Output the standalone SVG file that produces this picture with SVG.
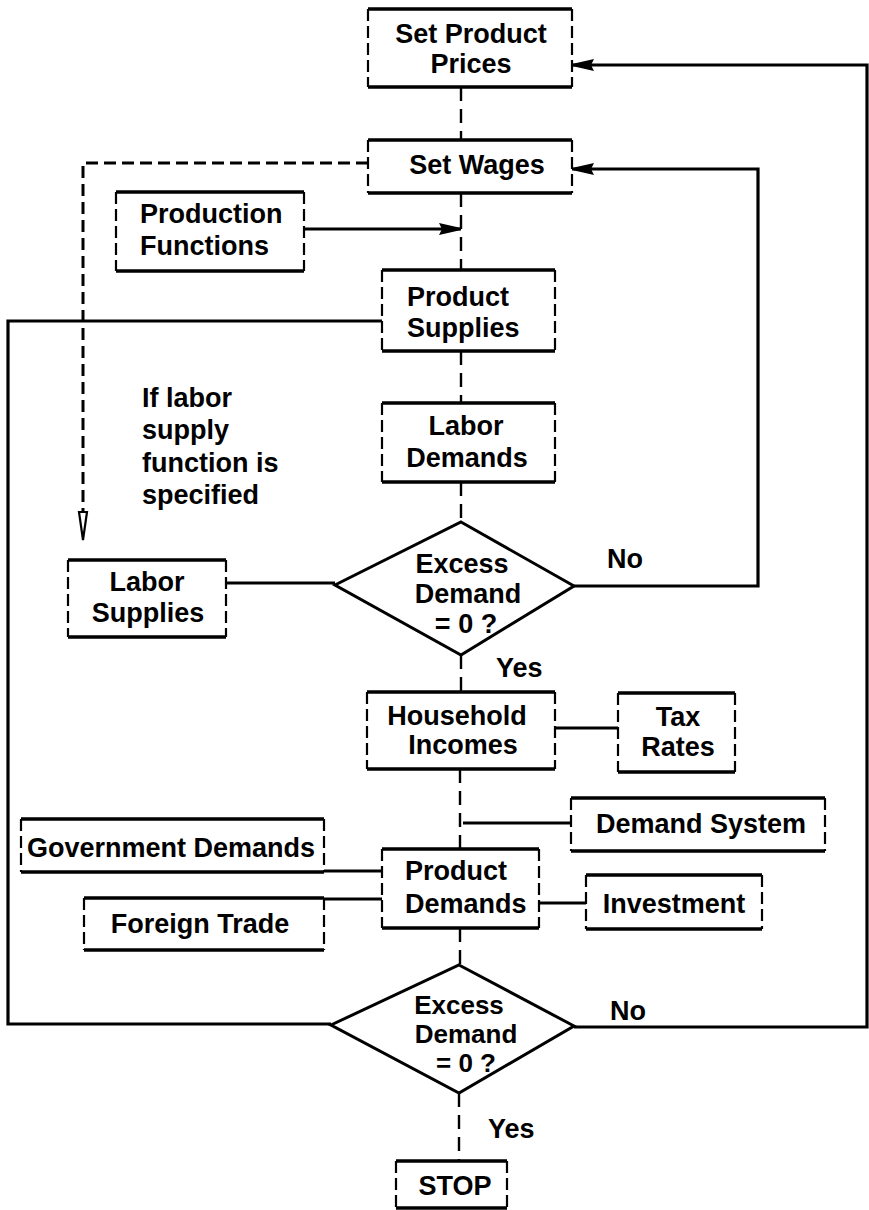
<svg xmlns="http://www.w3.org/2000/svg" width="869" height="1210" viewBox="0 0 869 1210">
<style>
.h{stroke:#000;stroke-width:3.5;fill:none}
.v{stroke:#000;stroke-width:2.2;fill:none;stroke-dasharray:12 5}
.d{stroke:#000;stroke-width:3;fill:#fff;stroke-linejoin:miter}
.s{stroke:#000;stroke-width:3.2;fill:none}
.ds{stroke:#000;stroke-width:2.4;fill:none;stroke-dasharray:14 8}
.dl{stroke:#000;stroke-width:3;fill:none;stroke-dasharray:12 6}
text{font-family:"Liberation Sans",Arial,sans-serif;font-weight:bold;font-size:27px;fill:#000}
.m{text-anchor:middle}
.sm{font-size:26px}
</style>
<defs>
<marker id="ah" viewBox="0 0 22 12" refX="22" refY="6" markerWidth="22" markerHeight="12" markerUnits="userSpaceOnUse" orient="auto">
<path d="M0 0 L22 5 L22 7 L0 12 L3 6 Z" fill="#000"/>
</marker>
</defs>
<rect width="869" height="1210" fill="#fff"/>
<g id="connectors">
<path class="ds" d="M461 87 V140"/>
<path class="ds" d="M461 193 V270"/>
<path class="s" d="M304 229 H461" marker-end="url(#ah)"/>
<path class="dl" d="M368 163 H83 V512"/>
<path d="M79 512 L83 540 L87 512 Z" fill="none" stroke="#000" stroke-width="2.2"/>
<path class="s" d="M382 321 H8 V1024 H331"/>
<path class="ds" d="M461 351 V403"/>
<path class="ds" d="M461 482 V522"/>
<path class="s" d="M226 583 H335"/>
<path class="s" d="M574 586 H758 V169 H572" marker-end="url(#ah)"/>
<path class="ds" d="M461 655 V692"/>
<path class="s" d="M555 728 H618"/>
<path class="ds" d="M460 769 V849"/>
<path class="s" d="M463 823 H571"/>
<path class="s" d="M324 871 H382"/>
<path class="s" d="M324 899 H382"/>
<path class="s" d="M539 903 H586"/>
<path class="ds" d="M460 928 V965"/>
<path class="s" d="M574 1027 H867 V65 H572" marker-end="url(#ah)"/>
<path class="ds" d="M459 1093 V1161"/>
</g>
<g id="labels">
<text x="607" y="568">No</text>
<text x="496" y="677">Yes</text>
<text x="610" y="1020">No</text>
<text x="488" y="1138">Yes</text>
<text x="142" y="407">If labor</text>
<text x="142" y="439">supply</text>
<text x="142" y="472">function is</text>
<text x="142" y="504">specified</text>
</g>
<g id="set-product-prices">
<path class="h" d="M368 9 H572 M368 87 H572"/>
<path class="v" d="M368 9 V87 M572 9 V87"/>
<text class="m" x="471" y="43">Set Product</text>
<text class="m" x="471" y="73">Prices</text>
</g>
<g id="set-wages">
<path class="h" d="M368 140 H572 M368 193 H572"/>
<path class="v" d="M368 140 V193 M572 140 V193"/>
<text class="m" x="477" y="174">Set Wages</text>
</g>
<g id="production-functions">
<path class="h" d="M116 192 H304 M116 271 H304"/>
<path class="v" d="M116 192 V271 M304 192 V271"/>
<text x="140" y="223">Production</text>
<text x="140" y="255">Functions</text>
</g>
<g id="product-supplies">
<path class="h" d="M382 270 H555 M382 351 H555"/>
<path class="v" d="M382 270 V351 M555 270 V351"/>
<text x="407" y="306">Product</text>
<text x="407" y="337">Supplies</text>
</g>
<g id="labor-demands">
<path class="h" d="M382 403 H555 M382 482 H555"/>
<path class="v" d="M382 403 V482 M555 403 V482"/>
<text class="m" x="466" y="435">Labor</text>
<text class="m" x="467" y="467">Demands</text>
</g>
<g id="excess-demand-1">
<path class="d" d="M461 522 L574 586 L461 655 L335 585 Z"/>
<text class="m" x="462" y="573">Excess</text>
<text class="m" x="468" y="603">Demand</text>
<text class="m" x="466" y="633">= 0 ?</text>
</g>
<g id="labor-supplies">
<path class="h" d="M68 560 H226 M68 637 H226"/>
<path class="v" d="M68 560 V637 M226 560 V637"/>
<text class="m" x="147" y="591">Labor</text>
<text class="m" x="148" y="622">Supplies</text>
</g>
<g id="household-incomes">
<path class="h" d="M367 692 H555 M367 769 H555"/>
<path class="v" d="M367 692 V769 M555 692 V769"/>
<text class="m" x="457" y="725">Household</text>
<text class="m" x="463" y="754">Incomes</text>
</g>
<g id="tax-rates">
<path class="h" d="M618 693 H735 M618 772 H735"/>
<path class="v" d="M618 693 V772 M735 693 V772"/>
<text class="m" x="678" y="726">Tax</text>
<text class="m" x="678" y="756">Rates</text>
</g>
<g id="demand-system">
<path class="h" d="M571 798 H825 M571 851 H825"/>
<path class="v" d="M571 798 V851 M825 798 V851"/>
<text class="m" x="701" y="833">Demand System</text>
</g>
<g id="government-demands">
<path class="h" d="M21 819 H324 M21 872 H324"/>
<path class="v" d="M21 819 V872 M324 819 V872"/>
<text class="m" x="171" y="857">Government Demands</text>
</g>
<g id="product-demands">
<path class="h" d="M382 849 H539 M382 928 H539"/>
<path class="v" d="M382 849 V928 M539 849 V928"/>
<text x="405" y="880">Product</text>
<text x="405" y="913">Demands</text>
</g>
<g id="foreign-trade">
<path class="h" d="M84 898 H324 M84 950 H324"/>
<path class="v" d="M84 898 V950 M324 898 V950"/>
<text class="m" x="200" y="933">Foreign Trade</text>
</g>
<g id="investment">
<path class="h" d="M586 875 H762 M586 929 H762"/>
<path class="v" d="M586 875 V929 M762 875 V929"/>
<text class="m" x="674" y="913">Investment</text>
</g>
<g id="excess-demand-2">
<path class="d" d="M459 965 L574 1026 L459 1093 L331 1025 Z"/>
<text class="m sm" x="459" y="1014">Excess</text>
<text class="m sm" x="466" y="1043">Demand</text>
<text class="m sm" x="466" y="1072">= 0 ?</text>
</g>
<g id="stop">
<path class="h" d="M396 1161 H507 M396 1208 H507"/>
<path class="v" d="M396 1161 V1208 M507 1161 V1208"/>
<text class="m" x="455" y="1195">STOP</text>
</g>
</svg>
